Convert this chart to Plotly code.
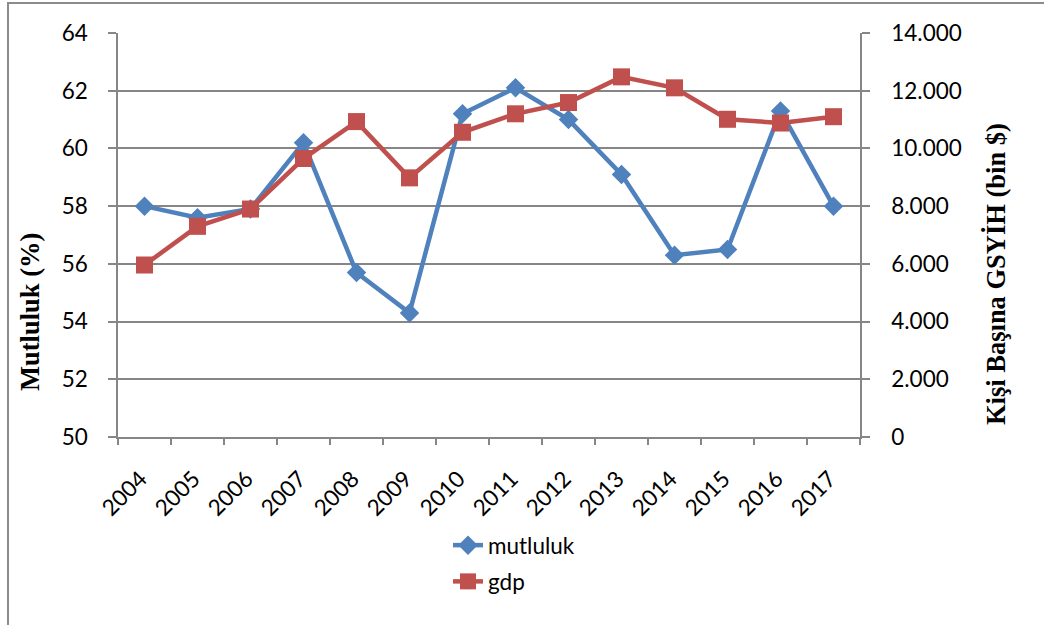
import plotly.graph_objects as go

years = ["2004", "2005", "2006", "2007", "2008", "2009", "2010",
         "2011", "2012", "2013", "2014", "2015", "2016", "2017"]
mutluluk = [58.0, 57.6, 57.9, 60.2, 55.7, 54.3, 61.2, 62.1, 61.0, 59.1, 56.3, 56.5, 61.3, 58.0]
gdp = [5960, 7300, 7900, 9650, 10930, 8980, 10560, 11200, 11590, 12480, 12100, 11010, 10880, 11100]

left_ticks = [50, 52, 54, 56, 58, 60, 62, 64]
right_ticks = [0, 2000, 4000, 6000, 8000, 10000, 12000, 14000]
right_labels = ["0", "2.000", "4.000", "6.000", "8.000", "10.000", "12.000", "14.000"]

BLUE = "#4F81BD"
RED = "#C0504D"
GRID = "#868686"
TICKFONT = dict(family="Lato", size=22.5, color="#000000")
TITLEFONT = dict(family="Liberation Serif", size=26.5, color="#000000")

W, H = 1044, 625
L, R, T, B = 118, 860, 33, 437

fig = go.Figure()
fig.add_trace(go.Scatter(
    x=years, y=mutluluk, name="mutluluk", mode="lines+markers",
    line=dict(color=BLUE, width=4.5),
    marker=dict(symbol="diamond", size=15, color=BLUE),
    legendgroup="a",
))
fig.add_trace(go.Scatter(
    x=years, y=gdp, name="gdp", mode="lines+markers", yaxis="y2",
    line=dict(color=RED, width=4.5),
    marker=dict(symbol="square", size=17, color=RED),
    legendgroup="b",
))

def px_x(p):
    return (p - L) / (R - L)

def px_y(p):
    return (B - p) / (B - T)

fig.update_layout(
    width=W, height=H,
    margin=dict(l=L, r=W - R, t=T, b=H - B, pad=0, autoexpand=False),
    paper_bgcolor="white", plot_bgcolor="white",
    showlegend=True,
    legend=dict(
        x=px_x(448), y=px_y(524), xanchor="left", yanchor="top",
        font=dict(family="Lato", size=22.5, color="#000000"),
        traceorder="grouped", tracegroupgap=4,
        bgcolor="rgba(0,0,0,0)",
    ),
    xaxis=dict(
        type="category", tickson="boundaries", ticks="outside", ticklen=6,
        tickcolor=GRID, tickwidth=1.5,
        showline=True, linecolor=GRID, linewidth=1.5,
        showgrid=False, tickangle=-45, tickfont=TICKFONT,
        ticklabelstandoff=18, ticklabelshift=-4,
        range=[-0.5, 13.5], automargin=False,
    ),
    yaxis=dict(
        range=[50, 64], tickvals=left_ticks, ticktext=[str(v) for v in left_ticks],
        ticks="outside", ticklen=8, tickcolor=GRID, tickwidth=1.5,
        showline=True, linecolor=GRID, linewidth=1.5,
        showgrid=True, gridcolor=GRID, gridwidth=1.5,
        zeroline=False, tickfont=TICKFONT, ticklabelstandoff=16,
        automargin=False,
    ),
    yaxis2=dict(
        range=[0, 14000], tickvals=right_ticks, ticktext=right_labels,
        overlaying="y", side="right",
        ticks="outside", ticklen=8, tickcolor=GRID, tickwidth=1.5,
        showline=True, linecolor=GRID, linewidth=1.5,
        showgrid=False, zeroline=False, tickfont=TICKFONT, ticklabelstandoff=17,
        automargin=False,
    ),
    annotations=[
        dict(text="<b>Mutluluk (%)</b>", textangle=-90, showarrow=False,
             xref="paper", yref="paper", x=px_x(30), y=px_y(312),
             xanchor="center", yanchor="middle", font=TITLEFONT),
        dict(text="<b>Kişi Başına GSYİH (bin $)</b>", textangle=-90, showarrow=False,
             xref="paper", yref="paper", x=px_x(996), y=px_y(274),
             xanchor="center", yanchor="middle", font=TITLEFONT),
    ],
    shapes=[
        dict(type="rect", xref="paper", yref="paper",
             x0=px_x(8), x1=px_x(1060), y0=px_y(640), y1=px_y(3),
             line=dict(color="#8C8C8C", width=2), fillcolor="rgba(0,0,0,0)",
             layer="below"),
    ],
)

fig.write_html(
    "out.html",
    config={"displayModeBar": False},
    post_script="document.body.style.margin='0';document.body.style.overflow='hidden';",
)
